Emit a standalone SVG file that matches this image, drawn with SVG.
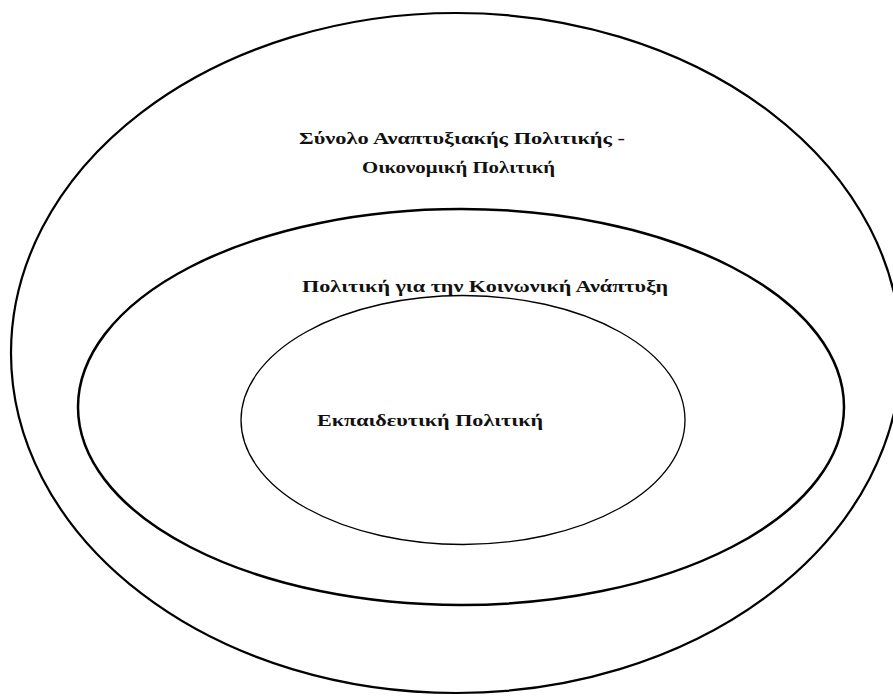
<svg xmlns="http://www.w3.org/2000/svg" width="893" height="698" viewBox="0 0 893 698">
<style>
.ring{fill:none;stroke:#000}
.lbl{font-family:"Liberation Serif","Times New Roman",serif;font-weight:bold;font-size:17px;fill:#111}
</style>
<rect width="893" height="698" fill="#fff"/>
<g id="outer">
<ellipse class="ring" cx="456" cy="353" rx="445" ry="340" stroke-width="2.2"/>
<text class="lbl" x="299" y="144" textLength="326" lengthAdjust="spacingAndGlyphs">Σύνολο Αναπτυξιακής Πολιτικής -</text>
<text class="lbl" x="362" y="173" textLength="193" lengthAdjust="spacingAndGlyphs">Οικονομική Πολιτική</text>
</g>
<g id="middle">
<ellipse class="ring" cx="461" cy="407" rx="383" ry="198" stroke-width="2.5"/>
<text class="lbl" x="302" y="292" textLength="366" lengthAdjust="spacingAndGlyphs">Πολιτική για την Κοινωνική Ανάπτυξη</text>
</g>
<g id="inner">
<ellipse class="ring" cx="463" cy="420" rx="222" ry="124.5" stroke-width="1.3"/>
<text class="lbl" x="317" y="426" textLength="226" lengthAdjust="spacingAndGlyphs">Εκπαιδευτική Πολιτική</text>
</g>
<g id="connectors"></g>
</svg>
